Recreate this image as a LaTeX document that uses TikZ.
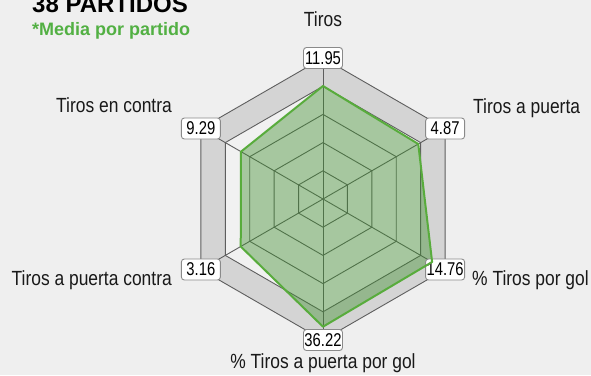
\documentclass[tikz,border=0pt]{standalone}
\usepackage{fontspec}
\setmainfont{Liberation Sans}
\newfontfamily\condfont{Liberation Sans}[FakeStretch=0.85]
\newfontfamily\numfont{Liberation Sans}[FakeStretch=0.8]
\definecolor{bg}{HTML}{EFEFEF}
\definecolor{bandgray}{HTML}{D4D4D4}
\definecolor{innerbg}{HTML}{F1F1F1}
\definecolor{gridline}{HTML}{5E5E5E}
\definecolor{gfill}{HTML}{3F8F2F}
\definecolor{gline}{HTML}{58AC3C}
\definecolor{subgreen}{HTML}{52B043}
\definecolor{boxline}{HTML}{8A8A8A}
\tikzset{
  gridstyle/.style={draw=gridline, line width=0.9pt},
  valbox/.style={draw=boxline, fill=white, rounded corners=3pt, line width=0.9pt,
    minimum width=39pt, minimum height=21pt, inner sep=1pt,
    font=\numfont\fontsize{18.5}{20}\selectfont},
  axislabel/.style={inner sep=0pt, font=\condfont\fontsize{20.5}{24}\selectfont, text=black!90},
  polyfill/.style={fill=gfill, fill opacity=0.42},
  polyline/.style={draw=gline, line width=2pt, line join=round}
}
\newcommand{\hexpath}[1]{(90:#1) -- (30:#1) -- (-30:#1) -- (-90:#1) -- (210:#1) -- (150:#1) -- cycle}
\begin{document}
\begin{tikzpicture}[x=1pt,y=1pt]
\fill[bg] (-323,-176) rectangle (268,199);
\useasboundingbox (-323,-176) rectangle (268,199);
% center and outer vertices
\coordinate (c) at (0,0);
\coordinate (v1) at (90:141);
\coordinate (v2) at (30:141);
\coordinate (v3) at (-30:141);
\coordinate (v4) at (-90:141);
\coordinate (v5) at (210:141);
\coordinate (v6) at (150:141);
% bands
\fill[bandgray] \hexpath{141};
\fill[innerbg] \hexpath{112.8};
% rings
\foreach \r in {28.2,56.4,84.6,112.8,141}{
  \draw[gridstyle] \hexpath{\r};
}
% spokes
\foreach \v in {v1,v2,v3,v4,v5,v6}{
  \draw[gridstyle] (c) -- (\v);
}
% data polygon points
\coordinate (p1) at (90:113);
\coordinate (p2) at (30:110);
\coordinate (p3) at (-30:126);
\coordinate (p4) at (-90:127.7);
\coordinate (p5) at (210:95);
\coordinate (p6) at (150:94.7);
\fill[polyfill] (p1) -- (p2) -- (p3) -- (p4) -- (p5) -- (p6) -- cycle;
% value boxes
\node[valbox] (b1) at (v1) {11.95};
\node[valbox] (b2) at (v2) {4.87};
\node[valbox] (b3) at (v3) {14.76};
\node[valbox] (b4) at (v4) {36.22};
\node[valbox] (b5) at (v5) {3.16};
\node[valbox] (b6) at (v6) {9.29};
\draw[polyline] (p1) -- (p2) -- (p3) -- (p4) -- (p5) -- (p6) -- cycle;
% axis labels
\node[axislabel, anchor=base] (l1) at (0,172) {Tiros};
\node[axislabel, anchor=base west] (l2) at (150,86) {Tiros a puerta};
\node[axislabel, anchor=base west] (l3) at (149,-86) {\% Tiros por gol};
\node[axislabel, anchor=base] (l4) at (0,-169) {\% Tiros a puerta por gol};
\node[axislabel, anchor=base east] (l5) at (-151,-86.7) {Tiros a puerta contra};
\node[axislabel, anchor=base east] (l6) at (-151,87) {Tiros en contra};
% titles
\node[inner sep=0pt, anchor=base west, font=\bfseries\fontsize{24}{28}\selectfont] (title) at (-291,186) {38 PARTIDOS};
\node[inner sep=0pt, anchor=base west, text=subgreen, font=\bfseries\fontsize{18}{21}\selectfont] (sub) at (-291,163) {*Media por partido};
\end{tikzpicture}
\end{document}
